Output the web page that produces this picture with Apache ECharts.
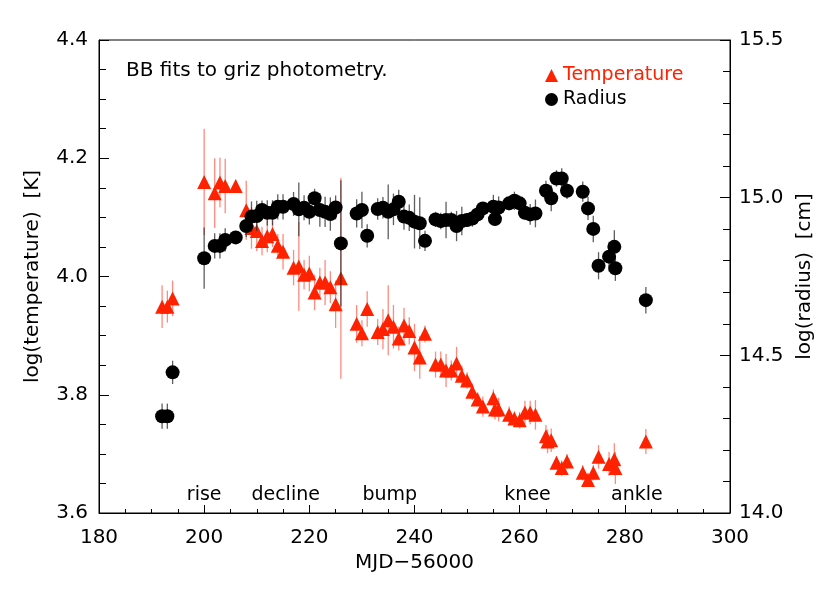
<!DOCTYPE html>
<html>
<head>
<meta charset="utf-8">
<script src="https://cdn.jsdelivr.net/npm/echarts@6/dist/echarts.min.js"></script>
<style>
    html, body { margin: 0; padding: 0; background: #fff; }
    #main { width: 830px; height: 593px; }
</style>
</head>
<body>
<div id="main"></div>
<script>
// temperature (log K) with 1-sigma errors
var tempDays = [192, 193, 194, 200, 202, 203, 204, 206, 208, 209, 210, 211, 212, 213, 214, 215,
    217, 218, 219, 220, 221, 222, 223, 224, 225, 226, 229, 230, 231, 233, 234, 235, 236, 237, 238, 239,
    240, 241, 242, 244, 245, 246, 247, 248, 249, 250, 251, 252, 253, 255, 255.3, 256, 258, 259, 260,
    261, 262, 263, 265, 265.3, 266, 267, 268, 269, 272, 273, 274, 275, 277, 278, 278.2, 284];
var tempValues = [3.949, 3.949, 3.963, 4.160, 4.141, 4.159, 4.153, 4.153, 4.112, 4.082, 4.077, 4.060,
    4.068, 4.072, 4.052, 4.042, 4.015, 4.017, 4.003, 4.005, 3.973, 3.990, 3.990, 3.982, 3.953, 3.997,
    3.920, 3.904, 3.945, 3.906, 3.911, 3.926, 3.915, 3.895, 3.917, 3.908, 3.880, 3.863, 3.903, 3.851,
    3.851, 3.841, 3.841, 3.853, 3.832, 3.824, 3.805, 3.792, 3.780, 3.794, 3.775, 3.775, 3.766, 3.760,
    3.757, 3.770, 3.770, 3.766, 3.730, 3.721, 3.723, 3.685, 3.676, 3.687, 3.668, 3.656, 3.668, 3.695,
    3.683, 3.691, 3.676, 3.721];
var tempErrors = [0.036, 0.027, 0.030, 0.090, 0.059, 0.042, 0.046, 0.010, 0.050, 0.035, 0.034, 0.024,
    0.027, 0.022, 0.020, 0.030, 0.030, 0.075, 0.025, 0.030, 0.030, 0.025, 0.038, 0.027, 0.040, 0.170,
    0.032, 0.022, 0.030, 0.022, 0.034, 0.059, 0.037, 0.020, 0.030, 0.023, 0.040, 0.036, 0.014, 0.022,
    0.022, 0.028, 0.017, 0.028, 0.017, 0.014, 0.014, 0.012, 0.017, 0.015, 0.017, 0.020, 0.014, 0.012,
    0.014, 0.020, 0.020, 0.025, 0.019, 0.020, 0.020, 0.011, 0.013, 0.013, 0.013, 0.012, 0.013, 0.020,
    0.020, 0.027, 0.027, 0.021];

// radius (log cm)
var radDays = [192, 193, 194, 200, 202, 203, 204, 206, 208, 209, 210, 211, 212, 213, 214, 215,
    217, 218, 219, 220, 221, 222, 223, 224, 225, 226, 229, 230, 231, 233, 234, 235, 236, 237, 238, 239,
    240, 241, 242, 244, 245, 246, 247, 248, 249, 250, 251, 252, 253, 255, 255.3, 256, 258, 259, 260,
    261, 262, 263, 265, 266, 267, 268, 269, 272, 273, 274, 275, 277, 278, 278.2, 284];
var radValues = [14.307, 14.307, 14.446, 14.808, 14.847, 14.847, 14.866, 14.874, 14.910, 14.940, 14.942,
    14.961, 14.952, 14.952, 14.971, 14.971, 14.980, 14.963, 14.968, 14.955, 14.998, 14.961, 14.955,
    14.948, 14.969, 14.855, 14.950, 14.961, 14.879, 14.964, 14.968, 14.955, 14.963, 14.987, 14.940,
    14.936, 14.924, 14.919, 14.863, 14.931, 14.926, 14.929, 14.929, 14.910, 14.926, 14.929, 14.934,
    14.947, 14.966, 14.971, 14.932, 14.969, 14.982, 14.990, 14.982, 14.952, 14.947, 14.950, 15.022,
    14.998, 15.061, 15.061, 15.022, 15.019, 14.966, 14.901, 14.784, 14.813, 14.844, 14.776, 14.675];
var radErrors = [0.040, 0.040, 0.037, 0.097, 0.040, 0.040, 0.037, 0.020, 0.035, 0.048, 0.048, 0.030,
    0.040, 0.040, 0.040, 0.040, 0.038, 0.085, 0.040, 0.040, 0.030, 0.053, 0.048, 0.053, 0.038, 0.200,
    0.045, 0.058, 0.037, 0.034, 0.034, 0.087, 0.050, 0.038, 0.042, 0.042, 0.085, 0.082, 0.032, 0.024,
    0.026, 0.058, 0.026, 0.048, 0.045, 0.022, 0.026, 0.022, 0.016, 0.038, 0.022, 0.035, 0.022, 0.029,
    0.025, 0.022, 0.033, 0.044, 0.032, 0.041, 0.026, 0.032, 0.026, 0.032, 0.037, 0.042, 0.043, 0.047,
    0.053, 0.040, 0.042];

// phase annotations along the bottom
var phaseNames = ['rise', 'decline', 'bump', 'knee', 'ankle'];
var phaseDays = [200, 215.5, 235.3, 261.5, 282.3];
var phaseLevel = 3.631;

var FONT = 'DejaVu Sans';
var RED = '#ff2200';

function points(days, vals) {
    var out = [];
    for (var i = 0; i < days.length; i++) {
        out.push([days[i], vals[i]]);
    }
    return out;
}

function errPoints(days, vals, errs) {
    var out = [];
    for (var i = 0; i < days.length; i++) {
        out.push([days[i], vals[i], errs[i]]);
    }
    return out;
}

function errorBar(color) {
    return function (params, api) {
        var x = api.value(0), y = api.value(1), e = api.value(2);
        var lo = api.coord([x, y - e]);
        var hi = api.coord([x, y + e]);
        return {
            type: 'line',
            shape: { x1: lo[0], y1: lo[1], x2: hi[0], y2: hi[1] },
            style: { stroke: color, lineWidth: 1.3 }
        };
    };
}

var tickLabel = function (v) { return v.toFixed(1); };

var option = {
    animation: false,
    backgroundColor: '#fff',
    textStyle: { fontFamily: FONT },
    title: {
        text: 'BB fits to griz photometry.',
        left: 121,
        top: 56,
        textStyle: { fontFamily: FONT, fontSize: 20, fontWeight: 'normal', color: '#000' }
    },
    legend: {
        orient: 'vertical',
        left: 540,
        top: 61,
        itemWidth: 13,
        itemHeight: 13,
        itemGap: 5,
        textStyle: { fontFamily: FONT, fontSize: 19, color: '#000' },
        data: [
            { name: 'Temperature', textStyle: { color: RED } },
            { name: 'Radius' }
        ]
    },
    grid: {
        left: 99,
        top: 40,
        right: 100,
        bottom: 80,
        show: true,
        borderColor: '#000',
        borderWidth: 1
    },
    xAxis: {
        type: 'value',
        min: 180,
        max: 300,
        interval: 20,
        name: 'MJD\u221256000',
        nameLocation: 'middle',
        nameGap: 40,
        nameTextStyle: { fontFamily: FONT, fontSize: 20, color: '#000' },
        axisLine: { lineStyle: { color: '#000' } },
        axisTick: { inside: true, length: 8, lineStyle: { color: '#000' } },
        minorTick: { show: true, splitNumber: 4, length: 4, lineStyle: { color: '#000' } },
        splitLine: { show: false },
        axisLabel: { margin: 15, fontSize: 20, color: '#000', fontFamily: FONT }
    },
    yAxis: [
        {
            type: 'value',
            min: 3.6,
            max: 4.4,
            interval: 0.2,
            name: 'log(temperature)  [K]',
            nameLocation: 'middle',
            nameRotate: 90,
            nameGap: 56,
            nameTextStyle: { fontFamily: FONT, fontSize: 20, color: '#000' },
            axisLine: { show: true, lineStyle: { color: '#000' } },
            axisTick: { show: true, inside: true, length: 10, lineStyle: { color: '#000' } },
            minorTick: { show: true, splitNumber: 4, length: 7, lineStyle: { color: '#000' } },
            splitLine: { show: false },
            axisLabel: { margin: 11, fontSize: 20, color: '#000', fontFamily: FONT, formatter: tickLabel }
        },
        {
            type: 'value',
            min: 14.0,
            max: 15.5,
            interval: 0.5,
            position: 'right',
            name: 'log(radius)  [cm]',
            nameLocation: 'middle',
            nameRotate: 90,
            nameGap: 62,
            nameTextStyle: { fontFamily: FONT, fontSize: 20, color: '#000' },
            axisLine: { show: true, lineStyle: { color: '#000' } },
            axisTick: { show: true, inside: true, length: 10, lineStyle: { color: '#000' } },
            minorTick: { show: true, splitNumber: 5, length: 7, lineStyle: { color: '#000' } },
            splitLine: { show: false },
            axisLabel: { margin: 9, fontSize: 20, color: '#000', fontFamily: FONT, formatter: tickLabel }
        }
    ],
    series: [
        {
            name: 'tempErr',
            type: 'custom',
            yAxisIndex: 0,
            renderItem: errorBar('rgba(255, 60, 40, 0.6)'),
            data: errPoints(tempDays, tempValues, tempErrors),
            silent: true,
            z: 1
        },
        {
            name: 'Temperature',
            type: 'scatter',
            yAxisIndex: 0,
            symbol: 'triangle',
            symbolSize: 14,
            itemStyle: { color: RED, opacity: 1 },
            data: points(tempDays, tempValues),
            z: 2
        },
        {
            name: 'radErr',
            type: 'custom',
            yAxisIndex: 1,
            renderItem: errorBar('rgba(40, 40, 40, 0.75)'),
            data: errPoints(radDays, radValues, radErrors),
            silent: true,
            z: 3
        },
        {
            name: 'Radius',
            type: 'scatter',
            yAxisIndex: 1,
            symbol: 'circle',
            symbolSize: 14,
            itemStyle: { color: '#000', opacity: 1 },
            data: points(radDays, radValues),
            z: 4
        },
        {
            name: 'phases',
            type: 'scatter',
            yAxisIndex: 0,
            symbolSize: 1,
            itemStyle: { color: 'rgba(0,0,0,0)' },
            silent: true,
            label: {
                show: true,
                position: 'inside',
                formatter: '{b}',
                fontFamily: FONT,
                fontSize: 19,
                color: '#000',
                opacity: 1,
                textBorderWidth: 0,
                textBorderColor: 'transparent'
            },
            data: phaseNames.map(function (n, i) {
                return { name: n, value: [phaseDays[i], phaseLevel] };
            }),
            z: 5
        }
    ]
};

var myChart = echarts.init(document.getElementById('main'));
myChart.setOption(option);
</script>
</body>
</html>
